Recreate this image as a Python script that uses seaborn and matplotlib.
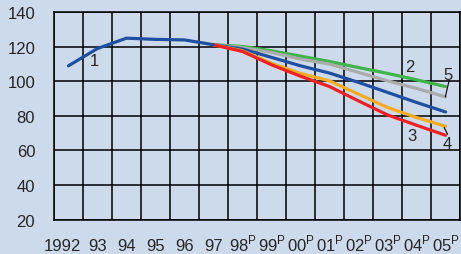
import numpy as np
import pandas as pd
import matplotlib
matplotlib.use("Agg")
import matplotlib.pyplot as plt
import matplotlib.transforms as mtransforms
import seaborn as sns

# history (line 1) and the five projections from 1997 on
hist_years = [1992, 1993, 1994, 1995, 1996, 1997]
hist_vals = [109, 119, 125, 124.3, 124, 121.2]
proj_years = [1997, 1998, 1999, 2000, 2001, 2002, 2003, 2004, 2005]
proj_2 = [121.2, 120.2, 117.7, 114.6, 111.5, 108.0, 104.6, 100.9, 97.0]
proj_5 = [121.2, 119.6, 116.7, 112.9, 110.0, 105.2, 100.3, 95.9, 91.0]
proj_1 = [121.2, 118.7, 113.9, 109.0, 104.8, 99.4, 93.6, 87.8, 82.3]
proj_4 = [121.2, 117.7, 110.5, 104.6, 100.3, 92.6, 84.9, 79.1, 74.0]
proj_3 = [121.2, 117.3, 109.6, 103.0, 97.0, 88.7, 80.6, 74.6, 68.8]
tick_labels = ["1992", "93", "94", "95", "96", "97", "98$^{\\mathrm{P}}$", "99$^{\\mathrm{P}}$",
               "00$^{\\mathrm{P}}$", "01$^{\\mathrm{P}}$", "02$^{\\mathrm{P}}$", "03$^{\\mathrm{P}}$",
               "04$^{\\mathrm{P}}$", "05$^{\\mathrm{P}}$"]

bg = "#cddaeb"
sns.set_style("white")
plt.rcParams["font.family"] = ["Liberation Sans", "DejaVu Sans"]
plt.rcParams["mathtext.fontset"] = "custom"
plt.rcParams["mathtext.rm"] = "Liberation Sans"

fig = plt.figure(figsize=(4.61, 2.55), dpi=100, facecolor=bg)
ax = fig.add_axes([0.117, 0.135, 0.881, 0.813])
ax.set_facecolor(bg)

series = [("2", proj_2, "#3fb44a"), ("5", proj_5, "#ababab"), ("1", proj_1, "#1f4fa0"),
          ("4", proj_4, "#f8aa22"), ("3", proj_3, "#ee2226")]
for name, vals, col in series:
    sns.lineplot(x=proj_years, y=vals, color=col, lw=2.3, ax=ax)
sns.lineplot(x=hist_years, y=hist_vals, color="#1f4fa0", lw=2.3, ax=ax)

ax.set_xlim(1991.5, 2005.5)
ax.set_ylim(20, 140)
ax.set_xticks(range(1992, 2006))
ax.set_xticklabels(tick_labels, va="baseline")
ax.set_xticks(np.arange(1991.5, 2006, 1), minor=True)
ax.set_yticks(range(20, 141, 20))
ax.grid(False)
ax.grid(True, which="minor", axis="x", color="black", lw=1.1)
ax.grid(True, which="major", axis="y", color="black", lw=1.1)
ax.tick_params(axis="both", which="both", length=0, labelsize=12)
ax.tick_params(axis="x", pad=22)
ax.tick_params(axis="y", pad=13.5)
for s in ax.spines.values():
    s.set_color("black")
    s.set_linewidth(1.1)
ax.set_xlabel("")
ax.set_ylabel("")

# nudge "1992" left like the original
first = ax.get_xticklabels()[0]
first.set_transform(first.get_transform() + mtransforms.ScaledTranslation(-0.065, 0, fig.dpi_scale_trans))

# line labels
ax.text(1992.9, 112.3, "1", fontsize=12, ha="center", va="center")
ax.text(2003.78, 108.8, "2", fontsize=12, ha="center", va="center")
ax.text(2005.1, 104.2, "5", fontsize=12, ha="center", va="center")
ax.text(2003.85, 68.4, "3", fontsize=12, ha="center", va="center")
ax.text(2005.05, 64.2, "4", fontsize=12, ha="center", va="center")
ax.plot([2005.12, 2004.99], [100.3, 91.0], color="black", lw=0.8)
ax.plot([2004.95, 2005.07], [73.3, 69.4], color="black", lw=0.8)

fig.savefig("out.png", dpi=100, facecolor=bg)
